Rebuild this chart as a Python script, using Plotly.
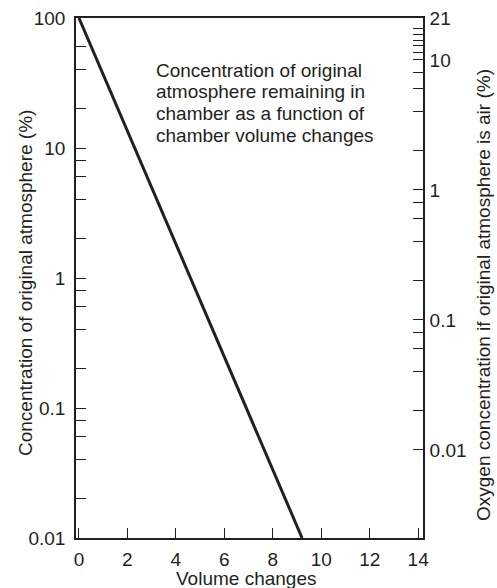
import plotly.graph_objects as go

# Data
volume_changes = [0, 2, 4, 6, 8, 9.21]
concentration_pct = [100, 13.5, 1.83, 0.248, 0.0335, 0.01]
oxygen_pct = [21, 2.84, 0.385, 0.052, 0.00704, 0.0021]

x_ticks = [0, 2, 4, 6, 8, 10, 12, 14]
left_major = [100, 10, 1, 0.1, 0.01]
left_major_text = ["100", "10", "1", "0.1", "0.01"]
left_minor = [60, 40, 20, 8, 6, 4, 2, 0.8, 0.6, 0.4, 0.2, 0.08, 0.06, 0.04, 0.02]
right_major = [21, 10, 1, 0.1, 0.01]
right_major_text = ["21", "10", "1", "0.1", "0.01"]
right_minor = [17.5, 15.8, 14.2, 13, 11.5, 8, 6, 4, 2, 0.8, 0.6, 0.4, 0.2,
               0.08, 0.06, 0.04, 0.02]

note_lines = ["Concentration of original",
              "atmosphere remaining in",
              "chamber as a function of",
              "chamber volume changes"]
x_title = "Volume changes"
left_title = "Concentration of original atmosphere (%)"
right_title = "Oxygen concentration if original atmosphere is air (%)"

INK = "#231f20"
FONT = "Liberation Sans, Arial, Helvetica, sans-serif"
FS = 19

W, H = 497, 588
ML, MR, MT, MB = 76, 74, 18, 50
plot_w = W - ML - MR
plot_h = H - MT - MB


def px_x(xpx):
    return (xpx - ML) / plot_w


def px_y(ypx):
    return 1 - (ypx - MT) / plot_h


fig = go.Figure()
fig.add_trace(go.Scatter(x=volume_changes, y=concentration_pct, mode="lines",
                         line=dict(color=INK, width=3), hoverinfo="skip",
                         showlegend=False))
fig.add_trace(go.Scatter(x=volume_changes, y=oxygen_pct, mode="lines",
                         line=dict(color="rgba(0,0,0,0)", width=0), yaxis="y2",
                         hoverinfo="skip", showlegend=False))

left_vals = left_major + left_minor
left_text = left_major_text + [""] * len(left_minor)
right_vals = right_major + right_minor
right_text = right_major_text + [""] * len(right_minor)

axis_common = dict(showgrid=False, zeroline=False, showline=True, linecolor=INK,
                   linewidth=1.6, ticks="inside", ticklen=10, tickwidth=1.3,
                   tickcolor=INK, automargin=False,
                   tickfont=dict(family=FONT, size=FS, color=INK))

fig.update_layout(
    width=W, height=H,
    margin=dict(l=ML, r=MR, t=MT, b=MB, pad=0),
    paper_bgcolor="white", plot_bgcolor="white",
    font=dict(family=FONT, size=FS, color=INK),
    xaxis=dict(range=[-0.12, 14.2], tickvals=x_ticks, mirror=True,
               ticklabelstandoff=3, **axis_common),
    yaxis=dict(type="log", range=[-2, 2], tickvals=left_vals, ticktext=left_text,
               ticklabelstandoff=5, **axis_common),
    yaxis2=dict(type="log", range=[-2.6778, 1.3222], overlaying="y", side="right",
                tickvals=right_vals, ticktext=right_text,
                ticklabelstandoff=1, **axis_common),
)

line_centers_px = [70.5, 92, 113.5, 135]
for txt, ypx in zip(note_lines, line_centers_px):
    fig.add_annotation(text=txt, xref="paper", yref="paper",
                       x=px_x(154), y=px_y(ypx),
                       xanchor="left", yanchor="middle", showarrow=False,
                       font=dict(family=FONT, size=FS, color=INK))

fig.add_annotation(text=x_title, xref="paper", yref="paper", x=px_x(246), y=px_y(578),
                   xanchor="center", yanchor="middle", showarrow=False,
                   font=dict(family=FONT, size=FS, color=INK))
fig.add_annotation(text=left_title, xref="paper", yref="paper", x=px_x(25), y=px_y(283),
                   xanchor="center", yanchor="middle", textangle=-90, showarrow=False,
                   font=dict(family=FONT, size=FS, color=INK))
fig.add_annotation(text=right_title, xref="paper", yref="paper", x=px_x(483), y=px_y(295),
                   xanchor="center", yanchor="middle", textangle=-90, showarrow=False,
                   font=dict(family=FONT, size=FS, color=INK))

fig.write_html("out.html", config={"displayModeBar": False},
               post_script="document.body.style.margin='0';")
